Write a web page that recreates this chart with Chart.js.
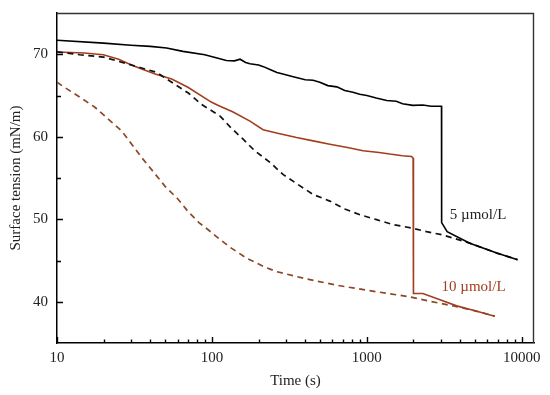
<!DOCTYPE html>
<html>
<head>
<meta charset="utf-8">
<script src="https://cdn.jsdelivr.net/npm/chart.js@4"></script>
<style>
html,body{margin:0;padding:0;background:#fff;}
#wrap{width:550px;height:395px;}
</style>
</head>
<body>
<div id="wrap"><canvas id="c" width="550" height="395"></canvas></div>
<script>
// ---- data ----
const xTickValues = [10, 100, 1000, 10000];
const yTickValues = [40, 50, 60, 70];

const solid5T = [10,20,30,40,51,65,90,124,140,152,165,176,200,215,237,263,287,330,400,450,497,560,640,720,813,900,1000,1150,1345,1550,1700,1982,2300,2600,3035,3040,3300,4620,6900,9400];
const solid5V = [71.7,71.35,71.1,70.95,70.75,70.35,69.95,69.25,69.2,69.4,69.0,68.85,68.7,68.5,68.15,67.8,67.6,67.3,66.9,66.85,66.6,66.2,66.05,65.6,65.4,65.15,65.0,64.7,64.4,64.3,64.0,63.8,63.85,63.7,63.7,49.6,48.5,47.1,45.9,45.1];

const dash5T = [10,14,20,34.3,44,70.4,86,113,131,159,189,237,289,360,451,577,721,902,1156,1480,1990,2430,3090,4620,6900,9400];
const dash5V = [70.3,69.94,69.65,68.4,67.8,65.3,63.9,62.5,61.2,59.7,58.3,56.9,55.4,54.2,53.0,52.2,51.25,50.55,49.95,49.35,48.9,48.5,48.1,47.1,45.9,45.1];

const solid10T = [10,15,19.9,25,31,43,55,70,99,110,137,176,214,270,352,450,577,750,946,1200,1405,1700,1942,1990,2000,2300,3000,3800,5000,6700];
const solid10V = [70.27,70.15,69.94,69.4,68.6,67.6,67.0,66.0,64.2,63.8,63.0,61.9,60.85,60.4,59.9,59.5,59.1,58.7,58.3,58.1,57.9,57.7,57.6,57.4,41.0,41.0,40.2,39.5,38.9,38.25];

const dash10T = [10,11,14.06,17.58,21.4,26.1,30.6,35.5,41.8,49.7,60.7,70.4,82.4,95,107,131,167,214,261,400,640,1000,1880,2500,3800,5000,6700];
const dash10V = [66.6,66.08,64.79,63.57,62.14,60.72,59.01,57.39,55.77,54.02,52.4,50.9,49.6,48.7,47.9,46.6,45.3,44.3,43.65,42.8,42.0,41.4,40.6,40.1,39.4,38.9,38.25];

const seriesLabels = ['5 µmol/L', '10 µmol/L'];

const pts = (t, v) => t.map((x, i) => ({x: x, y: v[i]}));

const FONT = "'Liberation Serif', 'Times New Roman', serif";
const RED = '#a23d1e';
const BROWN = '#8c4726';

const framePlugin = {
  id: 'frame',
  afterDraw(chart) {
    const {ctx, chartArea: a, scales: {x, y}} = chart;
    ctx.save();
    ctx.setLineDash([]);
    ctx.strokeStyle = '#333333';
    ctx.lineWidth = 1.4;
    ctx.beginPath();
    ctx.moveTo(a.left, a.top + 0.5);
    ctx.lineTo(a.right - 0.5, a.top + 0.5);
    ctx.lineTo(a.right - 0.5, a.bottom);
    ctx.stroke();
    ctx.strokeStyle = '#000000';
    ctx.beginPath();
    for (let d = 10; d <= 10000; d *= 10) {
      for (let m = 1; m <= 9; m++) {
        const v = d * m;
        if (v > x.max) break;
        const px = Math.round(x.getPixelForValue(v)) + 0.5;
        const len = (m === 1) ? 6 : 3.5;
        ctx.moveTo(px, a.bottom);
        ctx.lineTo(px, a.bottom - len);
      }
    }
    for (let v = 40; v <= 70; v += 5) {
      const py = Math.round(y.getPixelForValue(v)) + 0.5;
      const len = (v % 10 === 0) ? 6 : 4;
      ctx.moveTo(a.left, py);
      ctx.lineTo(a.left + len, py);
    }
    ctx.stroke();
    ctx.font = '15px ' + FONT;
    ctx.textBaseline = 'middle';
    ctx.textAlign = 'left';
    ctx.fillStyle = '#222';
    ctx.fillText(seriesLabels[0], x.getPixelForValue(3430), y.getPixelForValue(50.56));
    ctx.fillStyle = RED;
    ctx.fillText(seriesLabels[1], x.getPixelForValue(3035), y.getPixelForValue(41.8));
    ctx.restore();
  }
};

new Chart(document.getElementById('c'), {
  type: 'line',
  data: {
    datasets: [
      {data: pts(solid5T, solid5V), borderColor: '#000', borderWidth: 1.6},
      {data: pts(dash5T, dash5V), borderColor: '#111', borderWidth: 1.7, borderDash: [6, 4.5]},
      {data: pts(solid10T, solid10V), borderColor: RED, borderWidth: 1.6},
      {data: pts(dash10T, dash10V), borderColor: BROWN, borderWidth: 1.7, borderDash: [6, 4.5]}
    ]
  },
  options: {
    responsive: false,
    animation: false,
    devicePixelRatio: 1,
    layout: {padding: {top: 13, right: 16, left: 0, bottom: 0}},
    elements: {point: {radius: 0}, line: {tension: 0}},
    plugins: {legend: {display: false}},
    scales: {
      x: {
        type: 'logarithmic',
        min: 10, max: 12000,
        afterBuildTicks: s => { s.ticks = xTickValues.map(v => ({value: v})); },
        afterFit: s => { s.height = 52; s.paddingLeft = 0; s.paddingRight = 0; },
        grid: {display: false, drawTicks: false},
        border: {display: true, color: '#000', width: 1.5},
        ticks: {color: '#222', padding: 6, font: {family: FONT, size: 15}, callback: v => String(v)},
        title: {display: true, text: 'Time (s)', color: '#222', font: {family: FONT, size: 15}, padding: {top: 0, bottom: 5}}
      },
      y: {
        min: 35, max: 75,
        afterBuildTicks: s => { s.ticks = yTickValues.map(v => ({value: v})); },
        afterFit: s => { s.width = 57; s.paddingTop = 0; s.paddingBottom = 0; },
        grid: {display: false, drawTicks: false},
        border: {display: true, color: '#000', width: 1.5},
        ticks: {color: '#222', padding: 9, font: {family: FONT, size: 15}},
        title: {display: true, text: 'Surface tension (mN/m)', color: '#222', font: {family: FONT, size: 15}, padding: {top: 7, bottom: 0}}
      }
    }
  },
  plugins: [framePlugin]
});
</script>
</body>
</html>
